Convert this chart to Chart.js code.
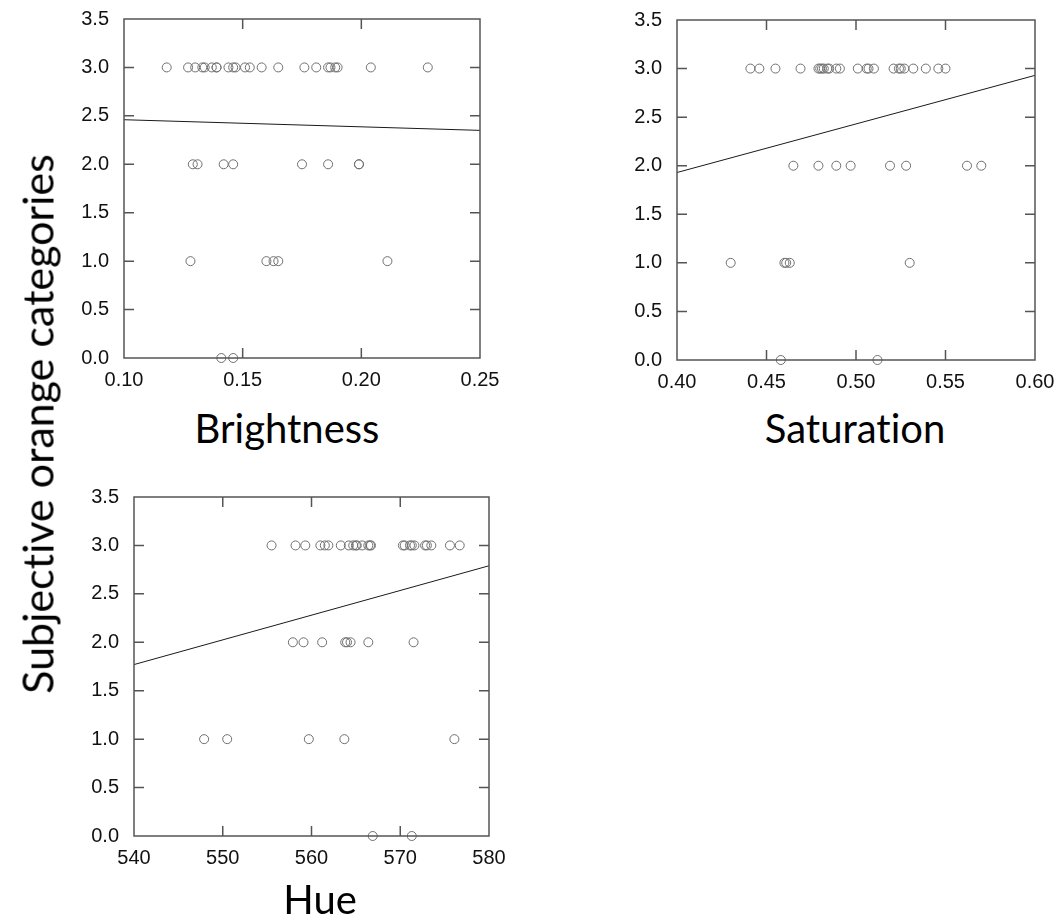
<!DOCTYPE html>
<html>
<head>
<meta charset="utf-8">
<script src="https://cdn.jsdelivr.net/npm/chart.js@4.4.1/dist/chart.umd.min.js"></script>
<style>
  html, body { margin: 0; padding: 0; background: #fff; }
  body { width: 1058px; height: 921px; position: relative; overflow: hidden; }
  canvas { position: absolute; }
  .title { position: absolute; font-family: Lato, "Open Sans", sans-serif; color: #000;
           white-space: nowrap; line-height: 1; transform: translate(-50%, -50%);
           font-variant-ligatures: none; }
</style>
</head>
<body>
<canvas id="cBright" width="450" height="400" style="left:60px;top:0px"></canvas>
<canvas id="cSat" width="448" height="402" style="left:610px;top:0px"></canvas>
<canvas id="cHue" width="450" height="420" style="left:70px;top:460px"></canvas>
<div class="title" id="tY" style="left:37px;top:424px;font-size:43px;transform:translate(-50%,-50%) rotate(-90deg)">Subjective orange categories</div>
<div class="title" style="left:287px;top:428px;font-size:40px">Brightness</div>
<div class="title" style="left:855px;top:428px;font-size:40px">Saturation</div>
<div class="title" style="left:320px;top:899px;font-size:40px">Hue</div>
<script>
// Subjective category assigned to each sample (3 = most orange)
const brightnessX = [0.118, 0.127, 0.130, 0.133, 0.134, 0.137, 0.139, 0.139, 0.144, 0.146, 0.147, 0.151,
                     0.153, 0.158, 0.165, 0.176, 0.181, 0.186, 0.187, 0.189, 0.190, 0.204, 0.228,
                     0.129, 0.131, 0.142, 0.146, 0.175, 0.186, 0.199, 0.199,
                     0.128, 0.160, 0.163, 0.165, 0.211,
                     0.141, 0.146];
const brightnessCat = [3, 3, 3, 3, 3, 3, 3, 3, 3, 3, 3, 3,
                       3, 3, 3, 3, 3, 3, 3, 3, 3, 3, 3,
                       2, 2, 2, 2, 2, 2, 2, 2,
                       1, 1, 1, 1, 1,
                       0, 0];

const saturationX = [0.441, 0.446, 0.455, 0.469, 0.479, 0.480, 0.481, 0.482, 0.484, 0.485, 0.489, 0.491,
                     0.501, 0.506, 0.507, 0.510, 0.521, 0.524, 0.525, 0.527, 0.532, 0.539, 0.546, 0.550,
                     0.465, 0.479, 0.489, 0.497, 0.519, 0.528, 0.562, 0.570,
                     0.430, 0.460, 0.461, 0.463, 0.530,
                     0.458, 0.512];
const saturationCat = [3, 3, 3, 3, 3, 3, 3, 3, 3, 3, 3, 3,
                       3, 3, 3, 3, 3, 3, 3, 3, 3, 3, 3, 3,
                       2, 2, 2, 2, 2, 2, 2, 2,
                       1, 1, 1, 1, 1,
                       0, 0];

const hueX = [555.5, 558.2, 559.3, 561.0, 561.5, 561.9, 563.3, 564.2, 564.7, 565.0, 565.1, 565.7, 566.4,
              566.6, 566.7, 570.3, 570.5, 571.1, 571.3, 571.6, 572.8, 573.0, 573.5, 575.6, 576.7,
              557.9, 559.1, 561.2, 563.8, 564.0, 564.4, 566.4, 571.5,
              547.9, 550.5, 559.7, 563.7, 576.1,
              566.9, 571.3];
const hueCat = [3, 3, 3, 3, 3, 3, 3, 3, 3, 3, 3, 3, 3,
                3, 3, 3, 3, 3, 3, 3, 3, 3, 3, 3, 3,
                2, 2, 2, 2, 2, 2, 2, 2,
                1, 1, 1, 1, 1,
                0, 0];

// Linear fits, evaluated at the two ends of each x range
const brightnessFitX = [0.10, 0.25];
const brightnessFitY = [2.46, 2.35];
const saturationFitX = [0.40, 0.60];
const saturationFitY = [1.93, 2.93];
const hueFitX = [540, 580];
const hueFitY = [1.77, 2.79];

// Shared y ticks
const yTicks = [0, 0.5, 1.0, 1.5, 2.0, 2.5, 3.0, 3.5];

const TICK_FONT = { family: '"Liberation Sans", Arial, sans-serif', size: 20 };

// Box around the plot area with short inward tick marks on all four sides
const framePlugin = {
  id: 'frame',
  afterDatasetsDraw(chart) {
    const { ctx, chartArea: a, scales: { x, y } } = chart;
    const L = 10;
    ctx.save();
    ctx.strokeStyle = '#555';
    ctx.lineWidth = 1.5;
    ctx.strokeRect(a.left, a.top, a.right - a.left, a.bottom - a.top);
    ctx.beginPath();
    x.ticks.forEach(t => {
      const px = x.getPixelForValue(t.value);
      if (px > a.left + 2 && px < a.right - 2) {
        ctx.moveTo(px, a.bottom); ctx.lineTo(px, a.bottom - L);
        ctx.moveTo(px, a.top); ctx.lineTo(px, a.top + L);
      }
    });
    y.ticks.forEach(t => {
      const py = y.getPixelForValue(t.value);
      if (py > a.top + 2 && py < a.bottom - 2) {
        ctx.moveTo(a.left, py); ctx.lineTo(a.left + L, py);
        ctx.moveTo(a.right, py); ctx.lineTo(a.right - L, py);
      }
    });
    ctx.stroke();
    ctx.restore();
  }
};

function makePanel(id, xs, cats, fitX, fitY, xMin, xMax, xStep, xDecimals, pad, yWidth, xHeight) {
  const pts = xs.map((v, i) => ({ x: v, y: cats[i] }));
  const fit = fitX.map((v, i) => ({ x: v, y: fitY[i] }));
  return new Chart(document.getElementById(id), {
    type: 'scatter',
    data: {
      datasets: [
        { type: 'line', data: fit, borderColor: '#1a1a1a', borderWidth: 1, pointRadius: 0, fill: false, clip: false },
        { data: pts, pointRadius: 4.5, pointStyle: 'circle', borderWidth: 1,
          borderColor: '#6f6f6f', backgroundColor: 'rgba(0,0,0,0)', clip: false }
      ]
    },
    options: {
      responsive: false,
      animation: false,
      devicePixelRatio: 1,
      layout: { padding: pad },
      plugins: { legend: { display: false }, tooltip: { enabled: false } },
      scales: {
        x: {
          type: 'linear', min: xMin, max: xMax,
          grid: { display: false }, border: { display: false },
          ticks: { stepSize: xStep, padding: 2, color: '#111', font: TICK_FONT, maxRotation: 0,
                   callback: v => Number(v).toFixed(xDecimals) },
          afterFit: s => { s.height = xHeight; }
        },
        y: {
          type: 'linear', min: 0, max: 3.5,
          grid: { display: false }, border: { display: false },
          afterBuildTicks: s => { s.ticks = yTicks.map(v => ({ value: v })); },
          ticks: { padding: 7, color: '#111', font: TICK_FONT, callback: v => Number(v).toFixed(1) },
          afterFit: s => { s.width = yWidth; }
        }
      }
    },
    plugins: [framePlugin]
  });
}

makePanel('cBright', brightnessX, brightnessCat, brightnessFitX, brightnessFitY,
          0.10, 0.25, 0.05, 2, { top: 18, right: 30, left: 0, bottom: 0 }, 64, 42);
makePanel('cSat', saturationX, saturationCat, saturationFitX, saturationFitY,
          0.40, 0.60, 0.05, 2, { top: 20, right: 23, left: 0, bottom: 0 }, 67, 42);
makePanel('cHue', hueX, hueCat, hueFitX, hueFitY,
          540, 580, 10, 0, { top: 37, right: 31, left: 0, bottom: 0 }, 64, 44);
</script>
</body>
</html>
